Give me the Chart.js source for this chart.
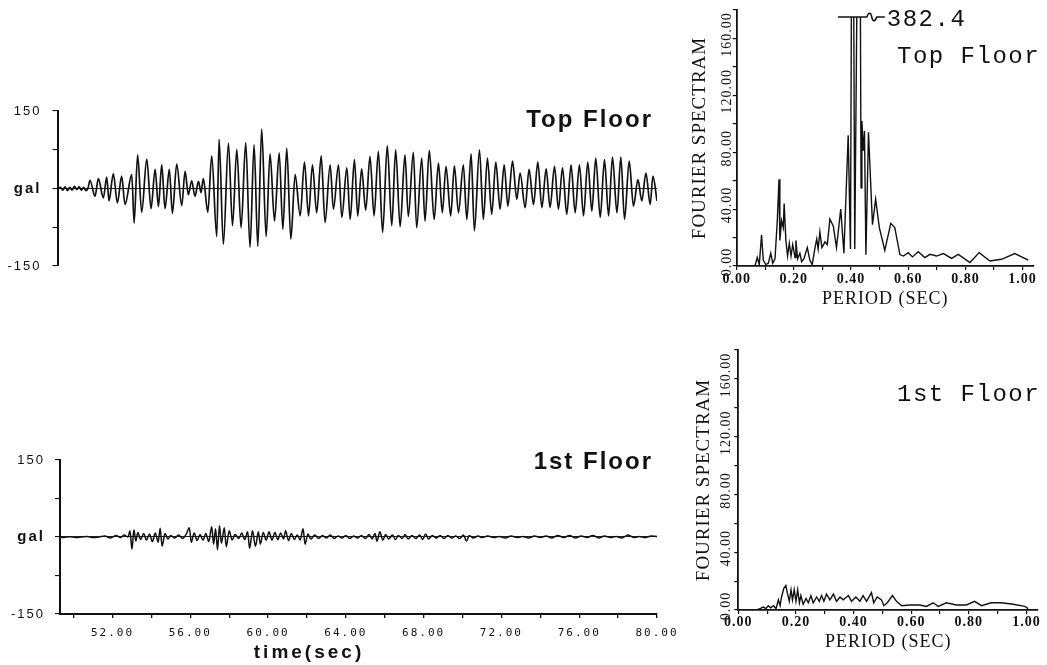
<!DOCTYPE html>
<html><head><meta charset="utf-8">
<script src="https://cdn.jsdelivr.net/npm/chart.js@4.4.1/dist/chart.umd.min.js"></script>
<style>
html,body{margin:0;padding:0;background:#fff;}
body{width:1047px;height:665px;position:relative;overflow:hidden;}
canvas{position:absolute;}
</style></head><body>
<canvas id="cA" width="680" height="190" style="left:0;top:95px"></canvas>
<canvas id="cB" width="680" height="220" style="left:0;top:445px"></canvas>
<canvas id="cC" width="367" height="320" style="left:680px;top:0"></canvas>
<canvas id="cD" width="367" height="325" style="left:680px;top:340px"></canvas>
<script>
// ---------- Tick values / labels ----------
const accelTicks = [-150, -75, 0, 75, 150];
const timeTicks = [50,52,54,56,58,60,62,64,66,68,70,72,74,76,78,80];
const timeLabels = [52,56,60,64,68,72,76,80];
const periodTicks = [0,0.1,0.2,0.3,0.4,0.5,0.6,0.7,0.8,0.9,1.0];
const periodLabels = [0,0.2,0.4,0.6,0.8,1.0];
const spectrumTicks = [0,20,40,60,80,100,120,140,160,180];
const spectrumLabels = [0,40,80,120,160];

// ---------- Top floor acceleration (gal), extrema ----------
const topTime = [
  49.2,49.32,49.44,49.56,49.68,49.8,49.92,50.04,50.16,50.28,50.4,50.52,50.64,50.74,
  50.84,51.1,51.27,51.53,51.7,51.82,52.04,52.25,52.47,52.64,52.99,53.11,53.29,53.5,53.76,53.98,
  54.19,54.36,54.53,54.7,54.92,55.08,55.3,55.56,55.73,55.9,56.07,56.24,56.42,56.55,56.67,56.9,
  57.1,57.36,57.48,57.7,57.96,58.17,58.39,58.61,58.85,59.07,59.28,59.47,59.67,59.9,60.1,60.33,
  60.57,60.76,60.96,61.17,61.39,61.65,61.87,62.08,62.28,62.5,62.73,62.93,63.19,63.36,63.62,63.79,64.05,64.22,64.44,
  64.61,64.81,65.02,65.24,65.45,65.67,65.89,66.13,66.36,66.56,66.79,67.04,67.21,67.47,67.64,67.9,
  68.07,68.29,68.54,68.76,68.96,69.15,69.39,69.58,69.79,70.04,70.22,70.44,70.61,70.87,71.07,71.28,
  71.5,71.71,71.93,72.14,72.33,72.57,72.79,72.96,73.22,73.42,73.65,73.87,74.08,74.3,74.5,74.73,
  74.93,75.14,75.36,75.58,75.79,76.01,76.22,76.44,76.65,76.85,77.08,77.3,77.51,77.71,77.94,78.14,
  78.33,78.57,78.79,79.02,79.22,79.43,79.65,79.79,80.0
];
const topAccel = [
  0,2,-3,3,-4,2,-3,4,-2,3,-3,2,-4,1,
  16,-15,19,-18,22,-24,29,-28,24,-31,27,-67,65,-46,57,-39,
  37,-35,46,-39,37,-48,47,-33,33,-12,15,-15,14,-8,19,-46,
  63,-93,95,-108,88,-72,76,-76,89,-114,85,-112,115,-93,67,-63,
  69,-79,78,-98,27,-53,51,-53,46,-47,63,-66,46,-40,46,-56,40,-60,56,
  -53,38,-42,62,-53,72,-85,83,-72,75,-74,65,-54,70,-76,59,
  -63,74,-60,49,-47,43,-53,44,-47,46,-60,67,-82,75,-60,59,
  -50,51,-40,46,-34,53,-21,30,-37,37,-31,51,-37,38,-37,43,
  -40,40,-50,46,-47,46,-53,51,-44,59,-56,56,-53,61,-47,61,
  -60,53,-34,17,-24,30,-31,24,-24
];

// ---------- 1st floor acceleration (gal) ----------
const firstTime = [
  49.3,49.5,49.8,50.1,50.4,50.7,51.0,51.3,51.6,51.9,
  52.2,52.4,52.6,52.8,52.9,53.0,53.1,53.2,53.3,53.45,
  53.6,53.75,53.9,54.05,54.2,54.35,54.45,54.55,54.7,54.85,
  55.0,55.2,55.4,55.6,55.8,55.95,56.05,56.2,56.35,56.5,
  56.65,56.8,56.95,57.1,57.2,57.3,57.4,57.5,57.6,57.75,
  57.85,58.0,58.15,58.3,58.5,58.65,58.8,58.95,59.05,59.2,
  59.35,59.5,59.6,59.75,59.9,60.05,60.2,60.35,60.5,60.65,
  60.8,60.9,61.05,61.2,61.35,61.5,61.65,61.8,61.9,62.05,
  62.2,62.4,62.6,62.8,63.0,63.2,63.4,63.6,63.8,64.0,
  64.2,64.4,64.6,64.8,65.0,65.2,65.35,65.5,65.6,65.75,
  65.9,66.05,66.2,66.4,66.55,66.7,66.9,67.05,67.2,67.4,
  67.6,67.8,67.95,68.1,68.25,68.45,68.65,68.85,69.05,69.25,
  69.45,69.65,69.85,70.05,70.2,70.35,70.55,70.8,71.0,71.3,
  71.6,71.9,72.2,72.5,72.8,73.1,73.4,73.7,74.0,74.3,
  74.6,74.9,75.2,75.5,75.8,76.1,76.4,76.7,77.0,77.3,
  77.6,77.9,78.2,78.5,78.8,79.1,79.4,79.7,80.0
];
const firstAccel = [
  0,-1,0.5,-1,0,1,-1,0,2,-2,
  3,-1,4,0,12,-24,14,-8,9,-5,
  7,-6,6,-9,8,-10,17,-18,7,-4,
  3,-2,4,-3,6,18,-10,8,-7,5,
  -6,7,-9,20,-14,16,-25,22,-12,18,
  -19,12,-6,5,-3,8,-5,10,-22,12,
  -18,10,-14,9,-6,10,-6,9,-5,8,
  -4,12,-7,7,-5,4,-6,16,-14,6,
  -4,4,-3,3,-2,4,-3,2,-2,3,
  -3,2,-2,3,-3,5,-4,7,-8,10,
  -6,5,-4,4,-5,3,-3,5,-4,3,
  -3,4,-5,6,-4,3,-2,3,-3,3,
  -2,2,-3,4,-8,3,-2,2,-1,2,
  -1,1,-2,2,-1,1,-2,2,-1,2,
  -2,3,-1,3,-2,2,-1,3,-2,2,
  -1,1,-2,4,-1,1,-1,2,1
];

// ---------- Fourier spectra ----------
const topPeriod = [
  0.064,0.072,0.079,0.087,0.093,0.102,0.111,0.119,0.126,0.134,
  0.142,0.148,0.151,0.157,0.163,0.166,0.172,0.178,0.184,0.19,
  0.196,0.204,0.207,0.213,0.221,0.227,0.235,0.247,0.256,0.264,
  0.274,0.28,0.285,0.291,0.298,0.309,0.317,0.326,0.338,0.349,
  0.364,0.375,0.39,0.398,0.405,0.413,0.429,0.435,0.438,0.443,
  0.447,0.452,0.461,0.475,0.486,0.499,0.518,0.539,0.553,0.571,
  0.583,0.6,0.615,0.635,0.658,0.676,0.699,0.723,0.752,0.775,
  0.816,0.848,0.886,0.926,0.973,1.02
];
const topSpectrum = [
  0,6,1,22,4,1,2,9,2,5,
  32,61,18,32,27,44,18,7,16,7,
  15,6,18,5,9,3,5,13,4,1,
  13,19,12,24,13,17,15,33,28,13,
  40,9,92,12,382.4,12,382.4,55,102,81,
  95,8,94,29,47,27,11,30,27,8,
  7,9.4,6.4,10,5.9,8.2,7,8.7,5.4,8.2,
  2.4,9.4,3.5,4.7,8.7,4.2
];
const firstPeriod = [
  0.064,0.075,0.087,0.096,0.104,0.112,0.122,0.131,0.139,0.145,
  0.15,0.158,0.165,0.17,0.177,0.183,0.188,0.194,0.2,0.206,
  0.212,0.217,0.225,0.235,0.243,0.252,0.26,0.272,0.281,0.289,
  0.297,0.306,0.318,0.33,0.341,0.353,0.364,0.382,0.393,0.408,
  0.422,0.433,0.445,0.462,0.47,0.482,0.497,0.505,0.517,0.535,
  0.549,0.567,0.595,0.63,0.653,0.676,0.694,0.722,0.757,0.792,
  0.82,0.844,0.878,0.913,0.954,0.994,1.006
];
const firstSpectrum = [
  0,1,2,1,3,1.5,3,1,7,3,
  9,15,17,12,6,14,7,14,6,14,
  5,10,4,8,5,10,5,9,6,10,
  6,11,7,11,6,9,7,10,6,9,
  6,10,6,12,5,9,7,3,5,10,
  6,3,3.5,3.5,2.5,5,2.5,5,3.5,3.5,
  6,3,5,5,4,2.5,1
];

const INK = '#111111';

// ---------- plugins ----------
const spacingPlugin = {
  id: 'spacing',
  beforeUpdate(chart, a, o) { chart.ctx.letterSpacing = (o.px || 0) + 'px'; },
  beforeDraw(chart, a, o) { chart.ctx.letterSpacing = (o.px || 0) + 'px'; }
};
const textPlugin = {
  id: 'texts',
  afterDraw(chart, a, o) {
    const ctx = chart.ctx;
    (o.items || []).forEach(it => {
      ctx.save();
      ctx.font = it.font;
      ctx.letterSpacing = (it.spacing || 0) + 'px';
      ctx.fillStyle = INK;
      ctx.textAlign = it.align || 'left';
      ctx.textBaseline = 'middle';
      ctx.fillText(it.text, it.x, it.y);
      ctx.restore();
    });
  }
};
const capPlugin = {
  id: 'cap',
  beforeDatasetsDraw(chart, a, o) {
    if (!o.level) return;
    const ctx = chart.ctx, ar = chart.chartArea;
    const y = chart.scales.y.getPixelForValue(o.level);
    ctx.save();
    ctx.beginPath();
    ctx.rect(ar.left - 2, y, ar.right - ar.left + 4, ar.bottom - y + 5);
    ctx.clip();
  },
  afterDatasetsDraw(chart, a, o) {
    if (!o.level) return;
    const ctx = chart.ctx;
    ctx.restore();
    const xs = chart.scales.x, ys = chart.scales.y;
    const y = ys.getPixelForValue(o.level);
    const x0 = xs.getPixelForValue(o.from), x1 = xs.getPixelForValue(o.to), x2 = xs.getPixelForValue(o.dashTo);
    ctx.save();
    ctx.strokeStyle = INK; ctx.lineWidth = 1.5;
    ctx.beginPath();
    ctx.moveTo(x0, y); ctx.lineTo(x1, y);
    ctx.bezierCurveTo(x1 + 2, y - 5, x1 + 4, y - 5, x1 + 5, y);
    ctx.bezierCurveTo(x1 + 6, y + 5, x1 + 8, y + 5, x1 + 10, y);
    ctx.lineTo(x2, y);
    ctx.stroke();
    ctx.font = o.font; ctx.letterSpacing = o.spacing + 'px';
    ctx.fillStyle = INK; ctx.textAlign = 'left'; ctx.textBaseline = 'middle';
    ctx.fillText(o.label, x2 + 2, y + 3);
    ctx.restore();
  }
};

function timeSeriesChart(id, times, accel, o) {
  return new Chart(document.getElementById(id), {
    type: 'line',
    data: { datasets: [{
      data: times.map((t, i) => ({ x: t, y: accel[i] })),
      borderColor: INK, borderWidth: o.lineWidth, pointRadius: 0,
      cubicInterpolationMode: 'monotone', fill: false
    }] },
    options: {
      responsive: false, animation: false, events: [],
      layout: { padding: o.padding },
      plugins: { legend: { display: false }, tooltip: { enabled: false },
                 spacing: { px: 2 }, texts: { items: o.texts } },
      scales: {
        x: {
          type: 'linear', min: o.xmin, max: 80, display: o.showX,
          afterBuildTicks: s => { s.ticks = timeTicks.map(v => ({ value: v })); },
          afterFit: s => { if (o.xHeight) s.height = o.xHeight; s.paddingLeft = 0; s.paddingRight = 0; },
          border: { display: true, color: INK, width: 2 },
          grid: { drawOnChartArea: false, tickLength: 4, color: INK, lineWidth: 1.3 },
          ticks: { autoSkip: false, maxRotation: 0, minRotation: 0, padding: 9, color: INK,
                   font: { family: 'DejaVu Sans Mono', size: 11 },
                   callback: v => timeLabels.includes(v) ? v.toFixed(2) : '' }
        },
        y: {
          type: 'linear', min: -150, max: 150,
          afterBuildTicks: s => { s.ticks = accelTicks.map(v => ({ value: v })); },
          afterFit: s => { s.width = o.yWidth; s.paddingTop = 0; s.paddingBottom = 0; },
          border: { display: true, color: INK, width: 2 },
          grid: { color: c => (c.tick && c.tick.value === 0) ? '#222' : 'rgba(0,0,0,0)',
                  tickColor: INK, tickLength: 5, lineWidth: 1.1 },
          ticks: { autoSkip: false, padding: o.yPad, color: INK,
                   font: c => (c.tick && c.tick.value === 0)
                     ? { family: 'Liberation Sans', size: 15, weight: 'bold' }
                     : { family: 'Liberation Sans', size: 13 },
                   callback: v => v === 0 ? 'gal' : (Math.abs(v) === 150 ? String(v) : '') }
        }
      }
    },
    plugins: [spacingPlugin, textPlugin]
  });
}

function spectrumChart(id, periods, spec, o) {
  return new Chart(document.getElementById(id), {
    type: 'line',
    data: { datasets: [{
      data: periods.map((p, i) => ({ x: p, y: spec[i] })),
      borderColor: INK, borderWidth: 1.4, pointRadius: 0, tension: 0, fill: false
    }] },
    options: {
      responsive: false, animation: false, events: [],
      layout: { padding: o.padding },
      plugins: { legend: { display: false }, tooltip: { enabled: false },
                 spacing: { px: 1 }, texts: { items: o.texts }, cap: o.cap || {} },
      scales: {
        x: {
          type: 'linear', min: 0, max: 1.04,
          afterBuildTicks: s => { s.ticks = periodTicks.map(v => ({ value: v })); },
          afterFit: s => { s.height = o.xHeight; s.paddingLeft = 0; s.paddingRight = 0; },
          border: { display: true, color: INK, width: 1.8 },
          grid: { drawOnChartArea: false, tickLength: 4, color: INK, lineWidth: 1.2 },
          ticks: { autoSkip: false, maxRotation: 0, minRotation: 0, padding: o.xTickPad, color: INK,
                   font: { family: 'Liberation Serif', size: 14, weight: 'bold' },
                   callback: v => periodLabels.some(p => Math.abs(p - v) < 1e-9) ? v.toFixed(2) : '' },
          title: { display: true, text: 'PERIOD (SEC)', color: INK,
                   font: { family: 'Liberation Serif', size: 18 }, padding: { top: 0, bottom: o.xTitlePad } }
        },
        y: {
          type: 'linear', min: 0, max: 180,
          afterBuildTicks: s => { s.ticks = spectrumTicks.map(v => ({ value: v })); },
          afterFit: s => { s.width = o.yWidth; s.paddingTop = 0; s.paddingBottom = 0; },
          border: { display: true, color: INK, width: 1.8 },
          grid: { drawOnChartArea: false, tickLength: 4, color: INK, lineWidth: 1.2 },
          ticks: { autoSkip: false, minRotation: 90, maxRotation: 90, crossAlign: 'center',
                   padding: o.yTickPad, labelOffset: -4, color: INK,
                   font: { family: 'Liberation Serif', size: 14 },
                   callback: v => spectrumLabels.includes(v) ? v.toFixed(2) : '' },
          title: { display: true, text: 'FOURIER SPECTRAM', color: INK,
                   font: { family: 'Liberation Serif', size: 19 }, padding: { top: o.yTitlePad, bottom: 0 } }
        }
      }
    },
    plugins: [spacingPlugin, textPlugin, capPlugin]
  });
}

const peakValue = Math.max(...topSpectrum);

timeSeriesChart('cA', topTime, topAccel, {
  padding: { top: 16, right: 23, bottom: 19, left: 0 },
  xmin: 49.17, showX: false, xHeight: 0, yWidth: 57.5, yPad: 11, lineWidth: 1.7,
  texts: [{ text: 'Top Floor', x: 653, y: 25, font: 'bold 24px "Liberation Sans"', spacing: 2, align: 'right' }]
});
timeSeriesChart('cB', firstTime, firstAccel, {
  padding: { top: 15, right: 23, bottom: 0, left: 0 },
  xmin: 49.3, showX: true, xHeight: 51, yWidth: 60, yPad: 10, lineWidth: 1.5,
  texts: [
    { text: '1st Floor', x: 653, y: 17, font: 'bold 24px "Liberation Sans"', spacing: 2, align: 'right' },
    { text: 'time(sec)', x: 309, y: 208, font: 'bold 19px "Liberation Sans"', spacing: 3, align: 'center' }
  ]
});
spectrumChart('cC', topPeriod, topSpectrum, {
  padding: { top: 10, right: 13, bottom: 0, left: 0 },
  xHeight: 54, yWidth: 56.7, xTickPad: 1, xTitlePad: 10, yTickPad: -16.5, yTitlePad: 9,
  texts: [{ text: 'Top Floor', x: 217, y: 57, font: '24px "Liberation Mono"', spacing: 1.5, align: 'left' }],
  cap: { level: 175, from: 0.354, to: 0.455, dashTo: 0.518, label: String(peakValue),
         font: '24px "Liberation Mono"', spacing: 1.5 }
});
spectrumChart('cD', firstPeriod, firstSpectrum, {
  padding: { top: 10, right: 9, bottom: 0, left: 0 },
  xHeight: 55, yWidth: 58.3, xTickPad: 0, xTitlePad: 12, yTickPad: -14.4, yTitlePad: 13,
  texts: [{ text: '1st Floor', x: 217, y: 55, font: '24px "Liberation Mono"', spacing: 1.5, align: 'left' }]
});
</script>
</body></html>
